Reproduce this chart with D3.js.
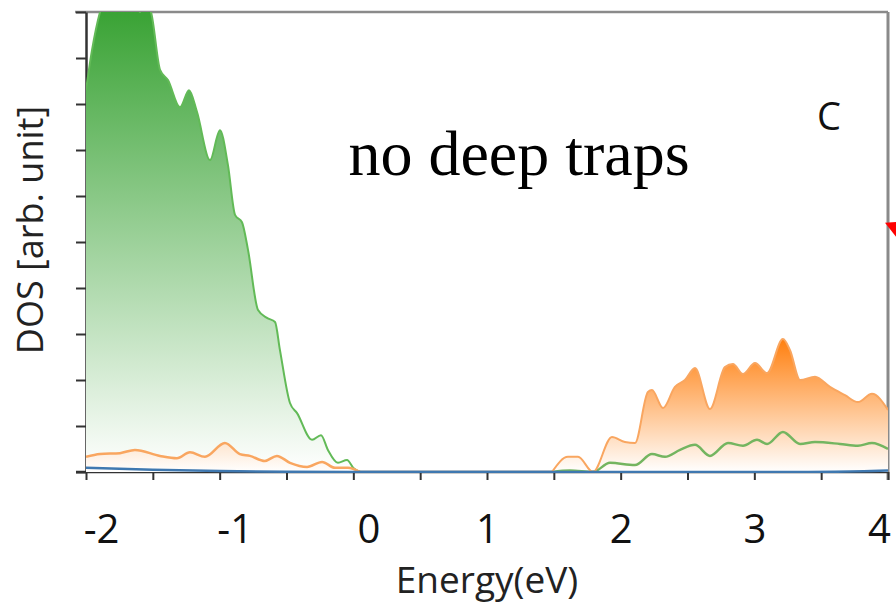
<!DOCTYPE html>
<html>
<head>
<meta charset="utf-8">
<script src="https://cdn.jsdelivr.net/npm/d3@7"></script>
<style>
  body { margin: 0; background: #fff; }
  text { font-family: "Open Sans", sans-serif; }
</style>
</head>
<body>
<div id="chart"></div>
<script>
// valence band (green = main, orange = minor)
const greenVBEnergy = [-2.0, -1.955, -1.895, -1.82, -1.75, -1.65, -1.596, -1.56, -1.514, -1.446, -1.387, -1.297, -1.229, -1.17, -1.072, -0.998, -0.938, -0.885, -0.833, -0.788, -0.713, -0.646, -0.586, -0.549, -0.474, -0.421, -0.309, -0.242, -0.19, -0.115, -0.047, 0.0, 0.05];
const greenVBDos = [8.3, 9.17, 10.0, 10.5, 10.7, 10.4, 10.0, 10.2, 10.0, 8.74, 8.52, 7.93, 8.3, 7.83, 6.78, 7.43, 6.67, 5.59, 5.43, 4.83, 3.52, 3.35, 3.26, 2.65, 1.5, 1.28, 0.7, 0.8, 0.48, 0.2, 0.26, 0.09, 0];

const orangeVBEnergy = [-2.0, -1.895, -1.746, -1.634, -1.447, -1.32, -1.222, -1.11, -0.961, -0.849, -0.774, -0.662, -0.572, -0.474, -0.346, -0.234, -0.137, -0.04, 0.05];
const orangeVBDos = [0.33, 0.39, 0.41, 0.48, 0.35, 0.3, 0.43, 0.33, 0.63, 0.39, 0.35, 0.24, 0.35, 0.2, 0.11, 0.22, 0.09, 0.09, 0];

// conduction band
const orangeCBEnergy = [1.486, 1.606, 1.681, 1.793, 1.935, 2.032, 2.107, 2.204, 2.234, 2.317, 2.406, 2.481, 2.556, 2.668, 2.78, 2.84, 2.915, 3.005, 3.095, 3.214, 3.267, 3.342, 3.454, 3.566, 3.678, 3.775, 3.88, 4.0];
const orangeCBDos = [0, 0.33, 0.33, 0, 0.76, 0.65, 0.63, 1.74, 1.78, 1.39, 1.85, 2.0, 2.26, 1.37, 2.28, 2.35, 2.13, 2.37, 2.15, 2.89, 2.65, 2.0, 2.07, 1.85, 1.67, 1.52, 1.7, 1.35];

const greenCBEnergy = [1.486, 1.621, 1.793, 1.92, 2.107, 2.234, 2.332, 2.444, 2.556, 2.668, 2.803, 2.915, 3.02, 3.095, 3.214, 3.342, 3.454, 3.641, 3.775, 3.88, 4.0];
const greenCBDos = [0, 0.03, 0, 0.2, 0.15, 0.39, 0.33, 0.48, 0.59, 0.35, 0.63, 0.57, 0.7, 0.61, 0.87, 0.61, 0.65, 0.61, 0.57, 0.63, 0.5];

const blueEnergy = [-2.0, -1.5, -1.0, -0.5, 0, 1, 2, 3, 3.6, 4.0];
const blueDos = [0.09, 0.05, 0.02, 0.005, 0, 0, 0, 0, 0.005, 0.03];

const xTicks = [-2, -1.5, -1, -0.5, 0, 0.5, 1, 1.5, 2, 2.5, 3, 3.5, 4];
const yTicks = [0, 1, 2, 3, 4, 5, 6, 7, 8, 9, 10];

const width = 896;
const height = 607;
const margin = { top: 12, left: 86, bottom: 135, right: 8 };
const iwidth = width - margin.left - margin.right;
const iheight = height - margin.top - margin.bottom;

const svg = d3.select("#chart").append("svg")
  .attr("width", width).attr("height", height);

const x = d3.scaleLinear().domain([-2, 4]).range([0, iwidth]);
const y = d3.scaleLinear().domain([0, 10]).range([iheight, 0]);

const defs = svg.append("defs");
defs.append("clipPath").attr("id", "plot-clip")
  .append("rect").attr("width", iwidth).attr("height", iheight + 1);

function grad(id, color, top) {
  const g = defs.append("linearGradient").attr("id", id)
    .attr("gradientUnits", "userSpaceOnUse")
    .attr("x1", 0).attr("x2", 0)
    .attr("y1", y(top)).attr("y2", y(0));
  g.append("stop").attr("offset", 0).attr("stop-color", color);
  g.append("stop").attr("offset", 1).attr("stop-color", "#ffffff");
}
grad("green-grad", "#3aa335", 10);
grad("orange-grad", "#ff7f0e", 2.9);

const g = svg.append("g")
  .attr("transform", `translate(${margin.left},${margin.top})`);

const pts = (es, vs) => es.map((e, i) => [e, vs[i]]);

const area = d3.area()
  .x((d) => x(d[0])).y0(y(0)).y1((d) => y(d[1]))
  .curve(d3.curveMonotoneX);
const line = d3.line()
  .x((d) => x(d[0])).y((d) => y(d[1]))
  .curve(d3.curveMonotoneX);

// frame: top and right lines
g.append("line").attr("x1", -11).attr("x2", iwidth).attr("y1", 0).attr("y2", 0)
  .attr("stroke", "#8a8a8a").attr("stroke-width", 2.5);
g.append("line").attr("x1", iwidth).attr("x2", iwidth).attr("y1", 0).attr("y2", iheight + 8)
  .attr("stroke", "#8a8a8a").attr("stroke-width", 3);

// axes
const xAxis = g.append("g")
  .attr("transform", `translate(0,${iheight})`)
  .call(d3.axisBottom(x).tickValues(xTicks).tickSize(8).tickSizeOuter(0)
    .tickFormat((d) => (Number.isInteger(d) ? d : "")));
xAxis.select(".domain").attr("stroke", "#333").attr("stroke-width", 2.5)
  .attr("d", `M-10,0H${iwidth}`);
xAxis.selectAll(".tick line").attr("stroke", "#333").attr("stroke-width", 2);
xAxis.selectAll(".tick text")
  .attr("y", 71).attr("dy", 0)
  .attr("dx", (d) => (d <= 0 ? 15 : d === 4 ? -9 : 0))
  .attr("fill", "#111")
  .style("font-size", "40px");

const yAxis = g.append("g")
  .call(d3.axisLeft(y).tickValues(yTicks).tickSize(10).tickSizeOuter(0).tickFormat(""));
yAxis.select(".domain").attr("stroke", "#333").attr("stroke-width", 2.5);
yAxis.selectAll(".tick line").attr("stroke", "#333").attr("stroke-width", 2);

// filled DOS
const plot = g.append("g").attr("clip-path", "url(#plot-clip)");

plot.append("path").datum(pts(greenVBEnergy, greenVBDos))
  .attr("d", area).attr("fill", "url(#green-grad)");
plot.append("path").datum(pts(greenCBEnergy, greenCBDos))
  .attr("d", area).attr("fill", "url(#green-grad)");
plot.append("path").datum(pts(orangeVBEnergy, orangeVBDos))
  .attr("d", area).attr("fill", "url(#orange-grad)").attr("fill-opacity", 0.9);
plot.append("path").datum(pts(orangeCBEnergy, orangeCBDos))
  .attr("d", area).attr("fill", "url(#orange-grad)");

plot.append("path").datum(pts(greenVBEnergy, greenVBDos))
  .attr("d", line).attr("fill", "none").attr("stroke", "#62ba57").attr("stroke-width", 2);
plot.append("path").datum(pts(orangeVBEnergy, orangeVBDos))
  .attr("d", line).attr("fill", "none").attr("stroke", "#f9a660").attr("stroke-width", 2.5);
plot.append("path").datum(pts(greenCBEnergy, greenCBDos))
  .attr("d", line).attr("fill", "none").attr("stroke", "#74b560").attr("stroke-width", 2.5);
plot.append("path").datum(pts(orangeCBEnergy, orangeCBDos))
  .attr("d", line).attr("fill", "none").attr("stroke", "#f9a660").attr("stroke-width", 2);
plot.append("path").datum(pts(blueEnergy, blueDos))
  .attr("d", line).attr("fill", "none").attr("stroke", "#3f78b0").attr("stroke-width", 2.5);

// red marker cut at right edge
g.append("path")
  .attr("d", `M${x(4) - 3},${y(5.42)}L${x(4) + 12},${y(5.44)}L${x(4) + 12},${y(5.0)}Z`)
  .attr("fill", "#ff0000");

// annotations
svg.append("text")
  .attr("x", 519).attr("y", 175)
  .attr("text-anchor", "middle")
  .style("font-family", "'Liberation Serif', 'Times New Roman', serif")
  .style("font-size", "64px")
  .attr("fill", "#000")
  .text("no deep traps");

svg.append("text")
  .attr("x", 829).attr("y", 130)
  .attr("text-anchor", "middle")
  .style("font-size", "38px")
  .attr("fill", "#111")
  .text("C");

// axis labels
svg.append("text")
  .attr("x", 487).attr("y", 593)
  .attr("text-anchor", "middle")
  .style("font-size", "37px")
  .attr("fill", "#222")
  .text("Energy(eV)");

svg.append("text")
  .attr("transform", "translate(43,230) rotate(-90)")
  .attr("text-anchor", "middle")
  .style("font-size", "36px")
  .attr("fill", "#222")
  .text("DOS [arb. unit]");
</script>
</body>
</html>
